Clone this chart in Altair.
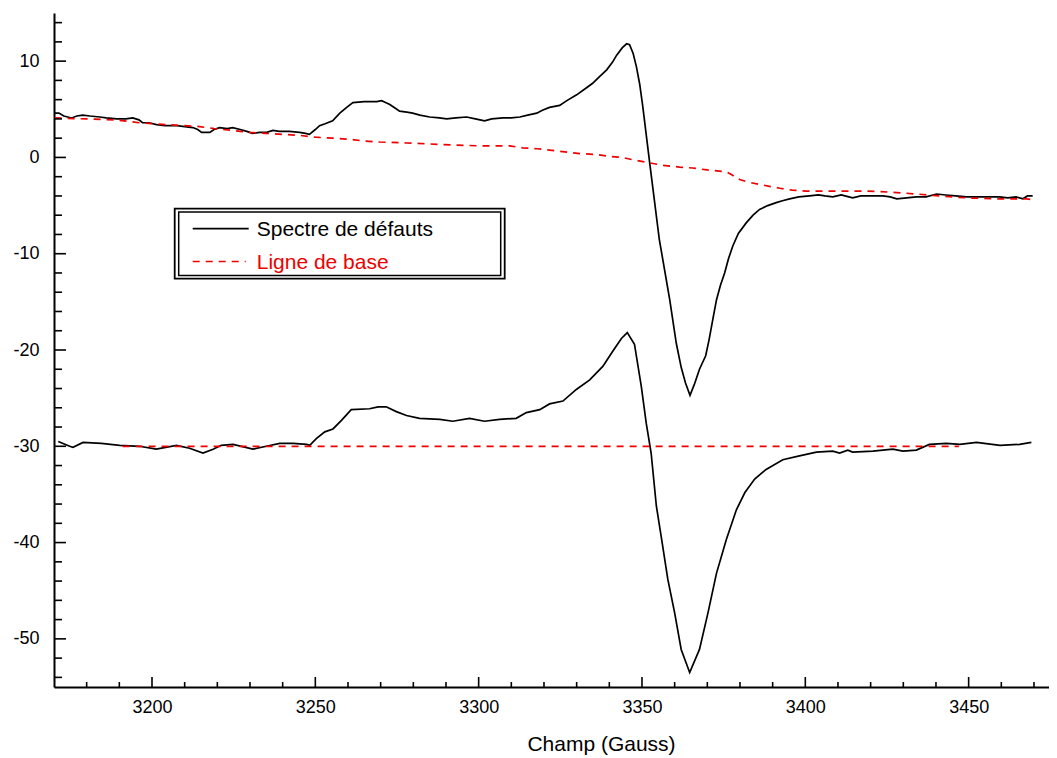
import altair as alt
import pandas as pd

FONT = "Liberation Sans"
RED = "#ee0000"
BLACK = "#000000"

# ---------------- data ----------------
series_names = ["Spectre de défauts", "Ligne de base"]
x_title = "Champ (Gauss)"

upper_x = [3170.2, 3171.5, 3173, 3175.4, 3177, 3178.8, 3181, 3184, 3186, 3189.2,
           3192, 3194.1, 3196, 3197.1, 3199, 3201.4, 3204, 3207.6, 3210, 3212.5,
           3214, 3215.2, 3217.7, 3219, 3220.7, 3223, 3224.7, 3227, 3229, 3230.8,
           3233, 3235.1, 3237, 3239, 3242, 3245.2, 3247, 3248.2, 3250, 3251.3,
           3253, 3255.3, 3257.5, 3259.6, 3261.5, 3265, 3268.8, 3270.3, 3271.5, 3272.8,
           3274.5, 3275.8, 3278, 3279.8, 3282, 3285, 3288, 3290.2, 3293, 3296.3,
           3299, 3301.8, 3304, 3307.4, 3310, 3312.6, 3315, 3317.8, 3319.5, 3321.7,
           3324.8, 3327, 3330, 3332.5, 3334.9, 3337, 3339.2, 3341, 3342.2, 3344,
           3345.3, 3346.2, 3347.3, 3348.3, 3349.3, 3350.2, 3352.3, 3355.3, 3358.5, 3360.5,
           3362, 3363.3, 3364.7, 3366, 3367.6, 3369.5, 3370.5, 3371.7, 3372.8, 3374,
           3375.3, 3376.5, 3377.8, 3379.5, 3381.9, 3384, 3386, 3388.5, 3391.1, 3393,
           3395.2, 3398, 3401.3, 3404, 3406, 3408.4, 3411, 3414.5, 3417, 3420,
           3423.7, 3426, 3428, 3431, 3434, 3437, 3440.2, 3443, 3446, 3449.4,
           3453, 3456, 3459.5, 3462, 3464.5, 3466.6, 3468, 3469.6]
upper_y = [4.6, 4.6, 4.3, 4.1, 4.3, 4.4, 4.3, 4.2, 4.1, 4.0,
           4.0, 4.1, 3.9, 3.6, 3.6, 3.4, 3.3, 3.3, 3.2, 3.1,
           2.9, 2.6, 2.6, 2.9, 3.1, 3.0, 3.1, 2.9, 2.7, 2.5,
           2.6, 2.6, 2.8, 2.7, 2.7, 2.6, 2.5, 2.4, 2.9, 3.3,
           3.5, 3.8, 4.6, 5.2, 5.7, 5.8, 5.8, 5.9, 5.7, 5.5,
           5.1, 4.8, 4.7, 4.6, 4.4, 4.2, 4.1, 4.0, 4.1, 4.2,
           4.0, 3.8, 4.0, 4.1, 4.1, 4.2, 4.4, 4.6, 4.9, 5.2,
           5.4, 5.9, 6.5, 7.1, 7.7, 8.4, 9.1, 9.9, 10.6, 11.4,
           11.8, 11.7, 10.8, 9.4, 7.6, 5.4, -0.4, -8.5, -14.8, -19.3,
           -21.8, -23.4, -24.7, -23.6, -22.0, -20.6, -19.0, -16.8, -14.8, -13.3,
           -12.0, -10.5, -9.2, -7.9, -6.8, -6.0, -5.4, -5.0, -4.7, -4.5,
           -4.3, -4.1, -4.0, -3.9, -4.0, -4.1, -3.9, -4.2, -4.0, -4.0,
           -4.0, -4.1, -4.3, -4.2, -4.1, -4.1, -3.8, -3.9, -4.0, -4.1,
           -4.1, -4.1, -4.1, -4.2, -4.1, -4.3, -4.0, -4.0]

baseline_x = [3170.2, 3180, 3189, 3196, 3204.5, 3210, 3214.6, 3219, 3224.7, 3230,
              3235, 3240, 3245, 3250, 3255.3, 3260, 3265, 3269.7, 3278, 3285,
              3292, 3300.3, 3309.5, 3313.5, 3318, 3325.7, 3331, 3336.1, 3340, 3344,
              3348, 3351.4, 3356, 3361.5, 3365.5, 3370, 3375.9, 3377.5, 3379.9, 3383,
              3386, 3389, 3392.2, 3396, 3400.4, 3410, 3418.8, 3426, 3434.1, 3441,
              3449.4, 3458, 3467.8, 3469.6]
baseline_y = [4.1, 4.0, 3.9, 3.6, 3.4, 3.3, 3.2, 3.0, 2.8, 2.6,
              2.5, 2.4, 2.3, 2.1, 2.0, 1.9, 1.7, 1.6, 1.5, 1.4,
              1.3, 1.2, 1.2, 1.0, 0.9, 0.6, 0.4, 0.3, 0.1, 0.0,
              -0.3, -0.5, -0.8, -1.0, -1.1, -1.3, -1.5, -1.8, -2.3, -2.6,
              -2.8, -3.0, -3.2, -3.4, -3.5, -3.5, -3.5, -3.6, -3.8, -4.0,
              -4.2, -4.3, -4.3, -4.4]

lower_x = [3171.3, 3174.8, 3175.8, 3178.9, 3184.5, 3190.1, 3196.2, 3201.3, 3207.5, 3211.5,
           3215.6, 3218.7, 3221.2, 3224.8, 3230.9, 3235, 3239.1, 3243.2, 3247.3, 3248.3,
           3250.3, 3252.9, 3255.4, 3258, 3261, 3266.6, 3269.2, 3271.7, 3274.8, 3277.9,
           3281.9, 3288.1, 3292.1, 3297.2, 3301.8, 3306.4, 3311.5, 3314.6, 3318.7, 3321.7,
           3325.8, 3329.9, 3334, 3338, 3341.1, 3343.7, 3345.5, 3347.7, 3349.8, 3351.3,
           3352.8, 3354.4, 3355.9, 3357.9, 3360, 3362, 3364.6, 3367.6, 3370.2, 3372.8,
           3375.8, 3378.9, 3381.5, 3384.5, 3388, 3393.1, 3398.2, 3403.4, 3408.4, 3410.5,
           3413, 3414.5, 3420.7, 3426.8, 3429.9, 3434, 3438, 3443.2, 3447.3, 3452.4,
           3459.6, 3465.6, 3469.2]
lower_y = [-29.5, -30.0, -30.1, -29.6, -29.7, -29.9, -30.0, -30.3, -29.9, -30.2,
           -30.7, -30.3, -29.9, -29.8, -30.3, -30.0, -29.7, -29.7, -29.8, -29.9,
           -29.2, -28.5, -28.2, -27.3, -26.2, -26.1, -25.9, -25.9, -26.4, -26.8,
           -27.1, -27.2, -27.4, -27.1, -27.4, -27.2, -27.1, -26.5, -26.2, -25.6,
           -25.3, -24.1, -23.1, -21.7, -20.1, -18.8, -18.2, -19.4, -23.8, -27.6,
           -30.7, -36.2, -39.4, -43.8, -47.3, -51.1, -53.5, -51.1, -47.3, -43.2,
           -39.7, -36.6, -34.8, -33.4, -32.4, -31.4, -31.0, -30.6, -30.5, -30.7,
           -30.4, -30.6, -30.5, -30.3, -30.5, -30.4, -29.8, -29.7, -29.8, -29.6,
           -29.9, -29.8, -29.6]

flat_x = [3191, 3447]
flat_y = [-30, -30]

x_major = [3200, 3250, 3300, 3350, 3400, 3450]
x_minor = [3180, 3190, 3210, 3220, 3230, 3240, 3260, 3270, 3280, 3290, 3310, 3320,
           3330, 3340, 3360, 3370, 3380, 3390, 3410, 3420, 3430, 3440, 3460, 3470]
y_major = [-50, -40, -30, -20, -10, 0, 10]
y_minor = [-54, -52, -48, -46, -44, -42, -38, -36, -34, -32, -28, -26, -24, -22,
           -18, -16, -14, -12, -8, -6, -4, -2, 2, 4, 6, 8, 12, 14]

X_DOMAIN = [3170, 3474.6]
Y_DOMAIN = [-55, 15]
W, H = 995, 674

# ---------------- scales & axes (identical in every layer) ----------------
xs = alt.Scale(domain=X_DOMAIN, nice=False, zero=False)
ys = alt.Scale(domain=Y_DOMAIN, nice=False, zero=False)
XAXIS = alt.Axis(values=x_major, title=x_title, format="d", labelPadding=11,
                 titleX=547, titleY=63, titleAlign="center", titleBaseline="alphabetic")
YAXIS = alt.Axis(values=y_major, title=None, labelPadding=15,
                 labelExpr="replace(datum.label, '\u2212', '-')")


def X(field):
    return alt.X(field, type="quantitative", scale=xs, axis=XAXIS)


def Y(field):
    return alt.Y(field, type="quantitative", scale=ys, axis=YAXIS)


def df(xv, yv):
    return pd.DataFrame({"x": xv, "y": yv})


def line(data, color, dash=None):
    kw = dict(color=color, strokeWidth=1.7, clip=True)
    if dash:
        kw["strokeDash"] = dash
    return alt.Chart(data).mark_line(**kw).encode(x=X("x"), y=Y("y"), order="x:Q")


upper = line(df(upper_x, upper_y), BLACK)
base = line(df(baseline_x, baseline_y), RED, dash=[7, 6])
lower = line(df(lower_x, lower_y), BLACK)
flat = line(df(flat_x, flat_y), RED, dash=[7, 6])

ytick_major = alt.Chart(pd.DataFrame({"y": y_major})).mark_rule(color=BLACK, strokeWidth=1.6).encode(
    y=Y("y"), x=alt.value(0), x2=alt.value(12))
ytick_minor = alt.Chart(pd.DataFrame({"y": y_minor})).mark_rule(color=BLACK, strokeWidth=1.6).encode(
    y=Y("y"), x=alt.value(0), x2=alt.value(8))
xtick_major = alt.Chart(pd.DataFrame({"x": x_major})).mark_rule(color=BLACK, strokeWidth=1.6).encode(
    x=X("x"), y=alt.value(H), y2=alt.value(H - 10))
xtick_minor = alt.Chart(pd.DataFrame({"x": x_minor})).mark_rule(color=BLACK, strokeWidth=1.6).encode(
    x=X("x"), y=alt.value(H), y2=alt.value(H - 5))

# ---------------- legend (double framed box) ----------------
one = pd.DataFrame({"k": [0]})
box_outer = alt.Chart(one).mark_rect(fill="white", stroke=BLACK, strokeWidth=1.8).encode(
    x=alt.value(120.7), x2=alt.value(450.7), y=alt.value(195.7), y2=alt.value(265.7))
box_inner = alt.Chart(one).mark_rect(fill="white", stroke=BLACK, strokeWidth=1.5).encode(
    x=alt.value(124.7), x2=alt.value(446.7), y=alt.value(198.9), y2=alt.value(262.5))
leg_line1 = alt.Chart(one).mark_rule(color=BLACK, strokeWidth=1.7).encode(
    x=alt.value(138.7), x2=alt.value(194.7), y=alt.value(215.7))
leg_line2 = alt.Chart(one).mark_rule(color=RED, strokeWidth=1.7, strokeDash=[7, 6]).encode(
    x=alt.value(138.7), x2=alt.value(191.7), y=alt.value(248.5))
leg_text1 = alt.Chart(one).mark_text(align="left", baseline="alphabetic", font=FONT,
                                     fontSize=21, color=BLACK).encode(
    x=alt.value(202.7), y=alt.value(223.4), text=alt.value(series_names[0]))
leg_text2 = alt.Chart(one).mark_text(align="left", baseline="alphabetic", font=FONT,
                                     fontSize=21, color=RED).encode(
    x=alt.value(202.7), y=alt.value(255.7), text=alt.value(series_names[1]))

chart = alt.layer(
    upper, base, lower, flat,
    ytick_major, ytick_minor, xtick_major, xtick_minor,
    box_outer, box_inner, leg_line1, leg_line2, leg_text1, leg_text2,
).properties(
    width=W, height=H,
    padding={"left": 46, "top": 5, "right": 0, "bottom": 69},
    autosize=alt.AutoSizeParams(type="none"),
).configure_view(
    stroke=None
).configure_axis(
    grid=False, ticks=False, tickSize=0, domainColor=BLACK, domainWidth=2,
    labelFont=FONT, labelFontSize=18, labelColor=BLACK,
    titleFont=FONT, titleFontSize=21, titleFontWeight="normal", titleColor=BLACK,
)

chart.save("out.html", embed_options={"renderer": "svg", "actions": False})
